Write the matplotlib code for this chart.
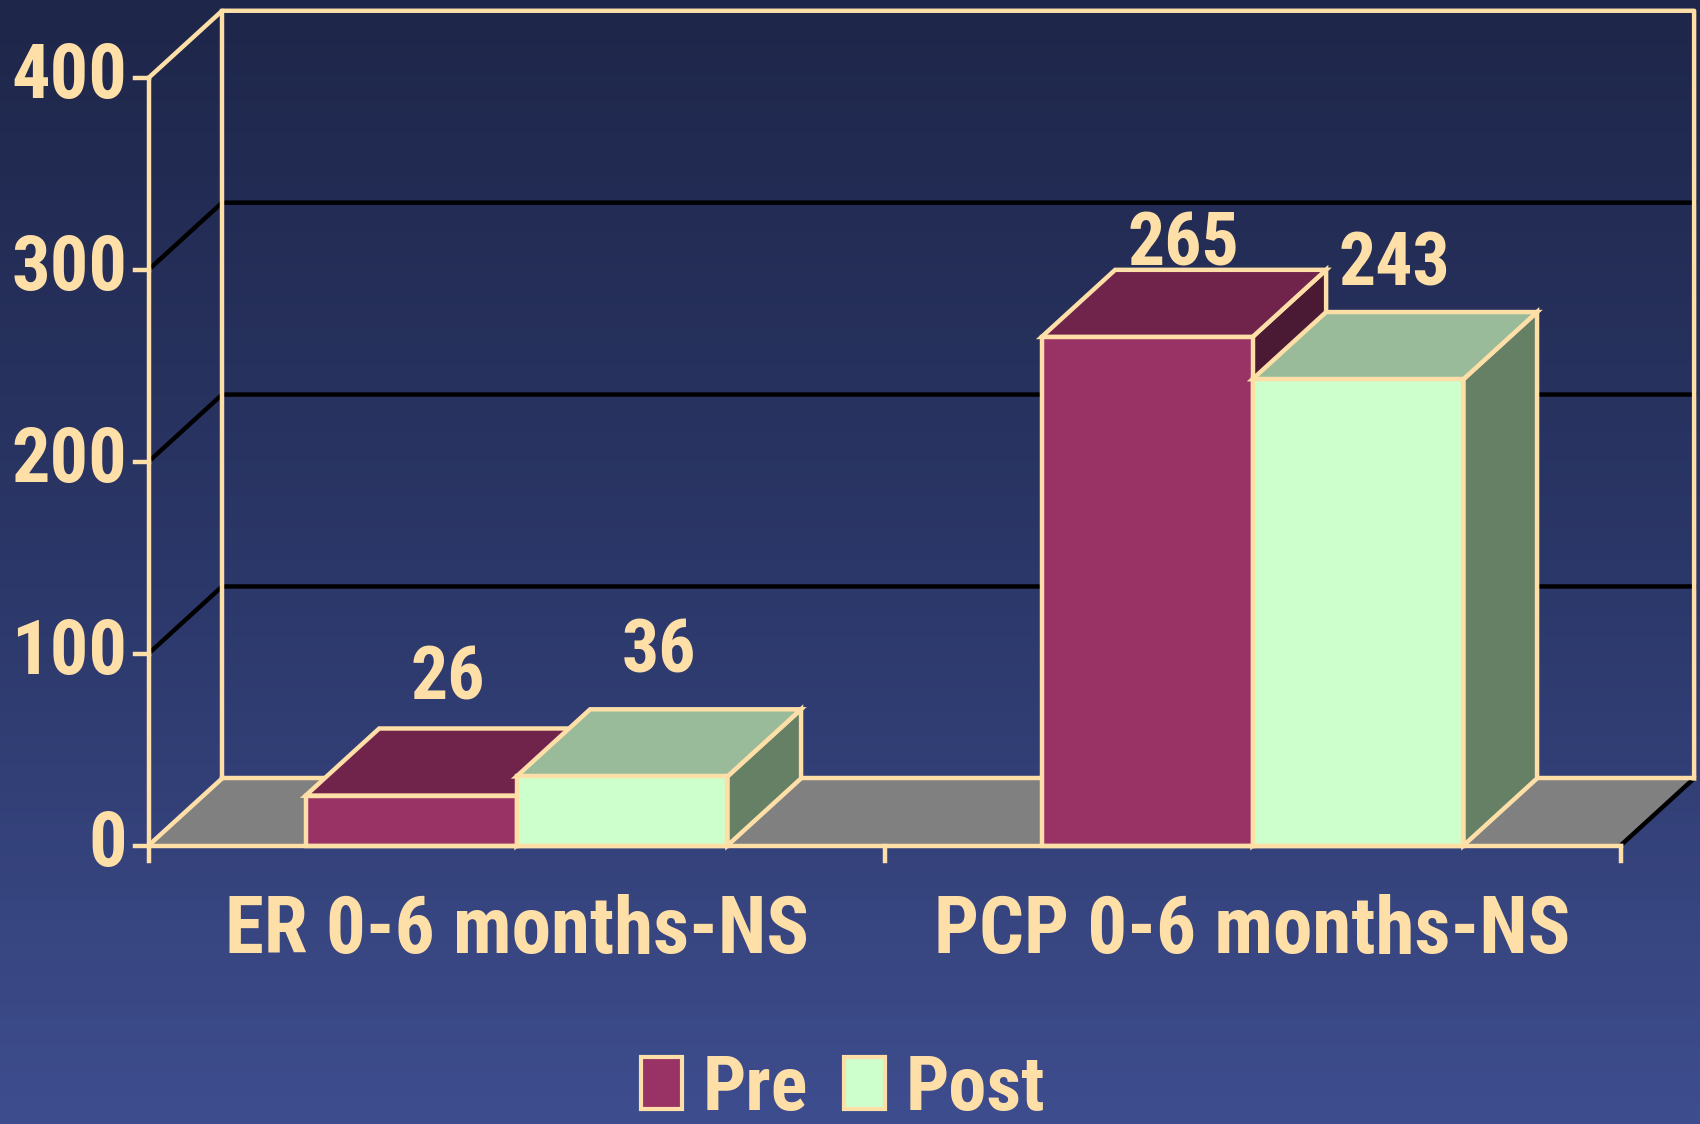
import numpy as np
import matplotlib
matplotlib.use('Agg')
import matplotlib.pyplot as plt
from matplotlib.patches import Polygon, Patch
from matplotlib.colors import LinearSegmentedColormap
from matplotlib import font_manager

# data
categories = ['ER 0-6 months-NS', 'PCP 0-6 months-NS']
series = ['Pre', 'Post']
pre = [26, 265]
post = [36, 243]
yticks = [0, 100, 200, 300, 400]

# colours (front, top, side)
colors = {
    'Pre': ('#993366', '#70244b', '#4a1a35'),
    'Post': ('#ccffcc', '#99bb99', '#668066'),
}
cream = '#ffdfa8'
floor_col = '#808080'

# look for a narrow bold sans (the original uses Arial Narrow)
fonts = font_manager.fontManager.ttflist
bold = ('bold', 700, 'heavy', 800)
def pick():
    prefs = ['liberation sans narrow', 'arial narrow', 'roboto condensed',
             'noto sans condensed', 'open sans condensed', 'narrow', 'condensed']
    for key in prefs:
        for f in fonts:
            if key in f.name.lower() and f.weight in bold and f.style == 'normal':
                return f
    for f in fonts:
        if f.stretch in ('condensed', 'semi-condensed', 'extra-condensed') and f.weight in bold:
            return f
    return None

narrow = pick()
if narrow is not None:
    fp = font_manager.FontProperties(fname=narrow.fname)
    fs_tick, fs_val, fs_cat, fs_leg = 55, 53, 57, 55
else:
    fp = font_manager.FontProperties(family='Liberation Sans', weight='bold')
    fs_tick, fs_val, fs_cat, fs_leg = 48, 48, 49, 49

# fake 3d depth, in data units
DX, DY = 0.1, 35
ymax = 400
bw = 0.2866

fig = plt.figure(figsize=(17, 11.24), dpi=100)
ax = fig.add_axes([0, 0, 1, 1])
xlim = (-0.2018, 2.108)
ylim = (-145.1, 440.6)

# background gradient, light at the bottom
cmap = LinearSegmentedColormap.from_list('bg', ['#3e4d8e', '#2b3768', '#1e2649'])
grad = np.linspace(0, 1, 256).reshape(-1, 1)
ax.imshow(grad, cmap=cmap, aspect='auto', extent=[xlim[0], xlim[1], ylim[0], ylim[1]],
          zorder=0, origin='lower')

ncat = len(categories)
lw = 3.2

# floor
ax.add_patch(Polygon([(0, 0), (ncat, 0), (ncat + DX, DY), (DX, DY)], closed=True,
                     facecolor=floor_col, edgecolor='none', zorder=1))
ax.plot([ncat, ncat + DX], [0, DY], color='black', lw=lw, zorder=2)
ax.plot([DX, ncat + DX], [DY, DY], color=cream, lw=lw, zorder=2)
ax.plot([0, DX], [0, DY], color=cream, lw=lw, zorder=2)

# gridlines on back and side walls
for t in yticks[1:-1]:
    ax.plot([0, DX, ncat + DX], [t, t + DY, t + DY], color='black', lw=lw, zorder=2)
# wall outline
ax.plot([0, DX, ncat + DX, ncat + DX], [ymax, ymax + DY, ymax + DY, DY], color=cream, lw=lw, zorder=2)
ax.plot([DX, DX], [DY, ymax + DY], color=cream, lw=lw, zorder=2)

# front axes
ax.plot([0, 0], [0, ymax], color=cream, lw=lw, zorder=5)
ax.plot([0, ncat], [0, 0], color=cream, lw=lw, zorder=5)
for t in yticks:
    ax.plot([-0.018, 0], [t, t], color=cream, lw=lw, zorder=5)
    ax.text(-0.029, t, str(t), color=cream, fontproperties=fp, fontsize=fs_tick,
            ha='right', va='center')
for i in range(ncat + 1):
    ax.plot([i, i], [0, -8], color=cream, lw=lw, zorder=5)

# bars
label_nudge = {('Pre', 0): 15, ('Post', 0): 19, ('Pre', 1): 2, ('Post', 1): 14}
for i, cat in enumerate(categories):
    c = i + 0.5
    for j, (name, vals) in enumerate(zip(series, [pre, post])):
        v = vals[i]
        x0 = c - bw + j * bw
        x1 = x0 + bw
        front, top, side = colors[name]
        z = 3 + j
        kw = dict(closed=True, edgecolor=cream, lw=lw, joinstyle='miter', zorder=z)
        ax.add_patch(Polygon([(x1, 0), (x1 + DX, DY), (x1 + DX, v + DY), (x1, v)], facecolor=side, **kw))
        ax.add_patch(Polygon([(x0, v), (x1, v), (x1 + DX, v + DY), (x0 + DX, v + DY)], facecolor=top, **kw))
        ax.add_patch(Polygon([(x0, 0), (x1, 0), (x1, v), (x0, v)], facecolor=front, **kw))
        ax.text(x0 + bw / 2 + DX / 2, v + DY + label_nudge[(name, i)], str(v), color=cream,
                fontproperties=fp, fontsize=fs_val, ha='center', va='baseline', zorder=6)
    ax.text(c, -56, cat, color=cream, fontproperties=fp, fontsize=fs_cat, ha='center', va='baseline')

ax.set_xlim(*xlim)
ax.set_ylim(*ylim)
ax.axis('off')

handles = [Patch(facecolor=colors[s][0], edgecolor=cream, lw=3) for s in series]
lp = fp.copy()
lp.set_size(fs_leg)
leg = fig.legend(handles, series, loc='center', bbox_to_anchor=(0.496, 0.031), ncol=2,
                 frameon=False, prop=lp, handlelength=0.54, handleheight=0.68,
                 handletextpad=0.27, columnspacing=0.47, borderpad=0)
for t in leg.get_texts():
    t.set_color(cream)

fig.savefig('out.png', dpi=100)
